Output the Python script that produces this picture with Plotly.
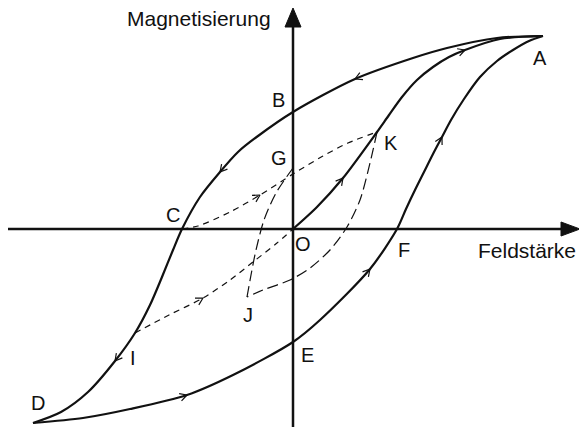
import math

import plotly.graph_objects as go

# Hysteresekurve, Werte in Bildpunkten relativ zum Ursprung O abgelesen
# absteigender Ast A -> B -> C -> I -> D
desc_h = [250, 204, 154, 120, 62, 0, -35, -55, -73, -93, -111, -120, -131, -143, -158, -178, -205, -232, -260]
desc_m = [193, 191, 181, 171, 150, 117, 93, 77, 57, 32, 0, -21, -48, -76, -104, -132, -163, -183, -194]

# aufsteigender Ast D -> E -> F -> A
asc_h = [-260, -210, -163, -106, -60, 0, 27, 77, 104, 113, 122, 131, 140, 149, 158, 171, 187, 204, 220, 236, 250]
asc_m = [-194, -189, -180, -166, -146, -113, -91, -40, 0, 20, 39, 57, 75, 92, 109, 130, 152, 168, 179, 188, 193]

# Neukurve O -> K -> A
new_h = [0, 24, 50, 84, 96, 109, 124, 140, 156, 172, 207, 250]
new_m = [0, 22, 51, 97, 114, 132, 149, 162, 172, 179, 190, 193]

# innere Schleifen (gestrichelt)
ck_h = [-111, -95, -63, -33, 0, 30, 55, 84]
ck_m = [0, 3, 17, 34, 55, 73, 86, 97]

io_h = [-158, -124, -90, -63, -40, -16, 0]
io_m = [-104, -86, -69, -51, -33, -14, 0]

kj_h = [84, 77, 67, 54, 37, 17, -3, -30, -46]
kj_m = [97, 66, 29, 2, -21, -39, -51, -61, -68]

jg_h = [-46, -42, -37, -29, -17, 0]
jg_m = [-68, -46, -21, 9, 36, 61]

# Pfeilspitzen: (Kurve, Index des Punktes)
arrow_marks = [
    ('desc', 4), ('desc', 8), ('desc', 15),
    ('asc', 3), ('asc', 7), ('asc', 13),
    ('new', 2), ('new', 9),
    ('ck', 3), ('io', 2),
]

# Beschriftungen
point_labels = ['A', 'B', 'C', 'D', 'E', 'F', 'G', 'K', 'O', 'J', 'I']
label_h = [247, -15, -120, -255, 14, 111, -14, 98, 10, -45, -160]
label_m = [171, 129, 14, -174, -126, -21, 71, 86, -15, -86, -129]

curves = {
    'desc': (desc_h, desc_m),
    'asc': (asc_h, asc_m),
    'new': (new_h, new_m),
    'ck': (ck_h, ck_m),
    'io': (io_h, io_m),
}

INK = '#111111'
FONT = 'Liberation Sans, Arial, sans-serif'


def chevron(xs, ys, i, size=8, spread=0.5):
    # offene Pfeilspitze in Laufrichtung der Kurve
    dx = xs[i + 1] - xs[i - 1]
    dy = ys[i + 1] - ys[i - 1]
    n = math.hypot(dx, dy)
    bx, by = -dx / n, -dy / n
    px, py = [], []
    for s in (spread, -spread):
        rx = bx * math.cos(s) - by * math.sin(s)
        ry = bx * math.sin(s) + by * math.cos(s)
        px.append(xs[i] + size * rx)
        py.append(ys[i] + size * ry)
    return [px[0], xs[i], px[1], None], [py[0], ys[i], py[1], None]


fig = go.Figure()

# Achsen
fig.add_trace(go.Scatter(x=[-285, 272], y=[0, 0], mode='lines',
                         line=dict(color=INK, width=2.5), hoverinfo='skip'))
fig.add_trace(go.Scatter(x=[0, 0], y=[-200, 208], mode='lines',
                         line=dict(color=INK, width=2.5), hoverinfo='skip'))
fig.add_trace(go.Scatter(x=[268, 287, 268, 268], y=[7, 0, -7, 7], mode='lines',
                         fill='toself', fillcolor=INK, line=dict(color=INK, width=1),
                         hoverinfo='skip'))
fig.add_trace(go.Scatter(x=[-8, 0, 8, -8], y=[202, 221, 202, 202], mode='lines',
                         fill='toself', fillcolor=INK, line=dict(color=INK, width=1),
                         hoverinfo='skip'))

# Hauptkurven
for h, m in [(desc_h, desc_m), (asc_h, asc_m), (new_h, new_m)]:
    fig.add_trace(go.Scatter(x=h, y=m, mode='lines', line_shape='spline',
                             line=dict(color=INK, width=2.2, smoothing=0.8),
                             hoverinfo='skip'))

# gestrichelte Kurven
for h, m, dash in [(ck_h, ck_m, '6px,5px'), (io_h, io_m, '6px,5px'),
                   (kj_h, kj_m, '11px,5px'), (jg_h, jg_m, '11px,5px')]:
    fig.add_trace(go.Scatter(x=h, y=m, mode='lines', line_shape='spline',
                             line=dict(color=INK, width=1.2, dash=dash, smoothing=0.8),
                             hoverinfo='skip'))

# Pfeile
ax_, ay_ = [], []
for name, i in arrow_marks:
    cx, cy = chevron(*curves[name], i)
    ax_ += cx
    ay_ += cy
fig.add_trace(go.Scatter(x=ax_, y=ay_, mode='lines',
                         line=dict(color=INK, width=1.2), hoverinfo='skip'))

for t, h, m in zip(point_labels, label_h, label_m):
    fig.add_annotation(x=h, y=m, text=t, showarrow=False,
                       font=dict(family=FONT, size=20, color=INK))

fig.add_annotation(x=-20, y=211, text='Magnetisierung', showarrow=False,
                   xanchor='right', font=dict(family=FONT, size=21, color=INK))
fig.add_annotation(x=285, y=-21, text='Feldstärke', showarrow=False,
                   xanchor='right', font=dict(family=FONT, size=21, color=INK))

fig.update_layout(
    width=579, height=427,
    margin=dict(l=0, r=0, t=0, b=0),
    showlegend=False,
    plot_bgcolor='white', paper_bgcolor='white',
    xaxis=dict(range=[-293, 286], visible=False, fixedrange=True),
    yaxis=dict(range=[-198, 229], visible=False, fixedrange=True),
)

fig.write_html('out.html', config={'displayModeBar': False},
               post_script="document.body.style.margin='0';")
